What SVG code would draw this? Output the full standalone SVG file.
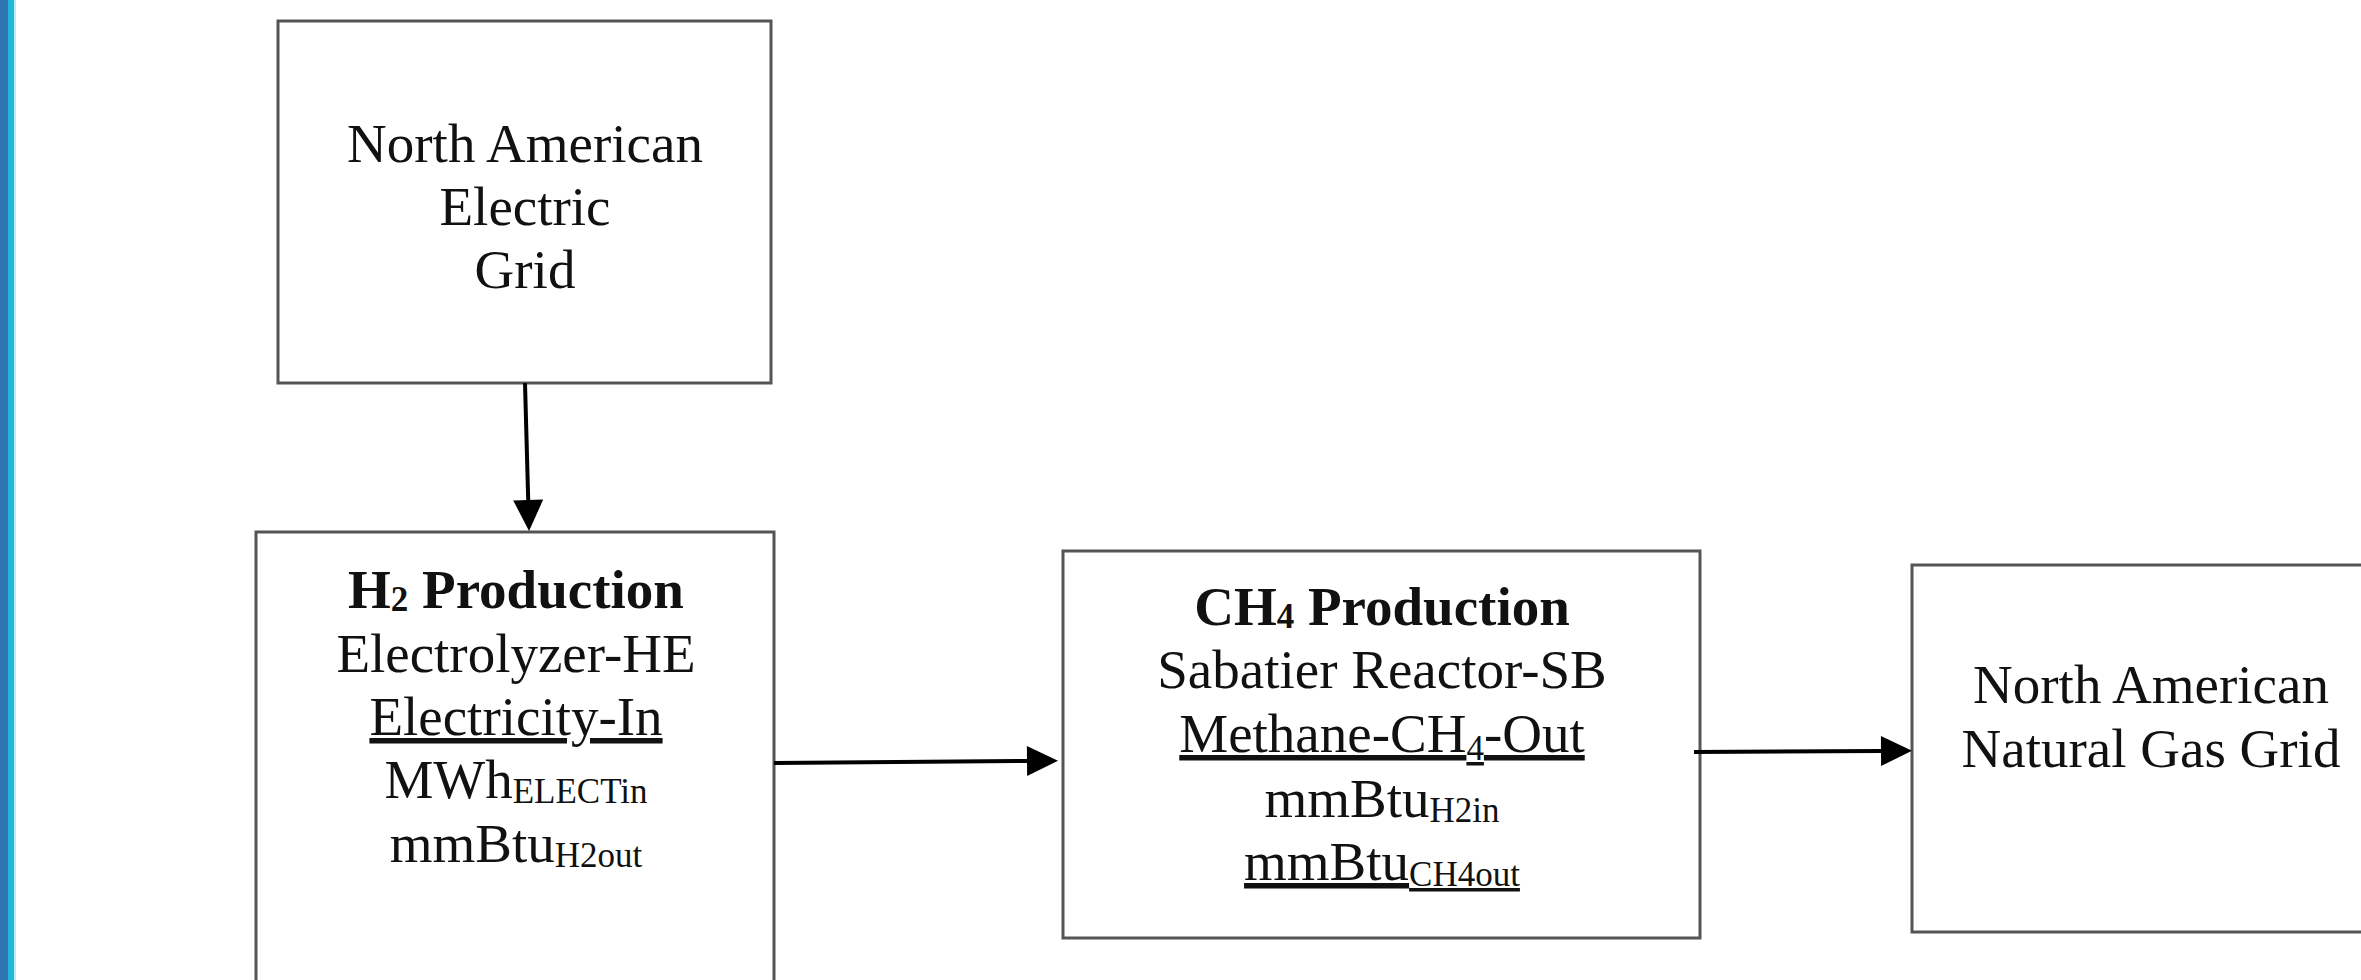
<svg xmlns="http://www.w3.org/2000/svg" width="2361" height="980" viewBox="0 0 2361 980">
<style>
.box{fill:#fff;stroke:#555;stroke-width:3}
.t{font-family:"Liberation Serif","Times New Roman",serif;font-size:55px;fill:#111;text-anchor:middle}
.b{font-weight:bold}
.s{font-size:35px}
.u{text-decoration:underline}
.c{stroke:#000;stroke-width:4;fill:none;marker-end:url(#ah)}
</style>
<defs>
<marker id="ah" markerUnits="userSpaceOnUse" markerWidth="31" markerHeight="31" refX="0" refY="15" orient="auto" overflow="visible">
<path d="M0,0 L31,15 L0,30 z" fill="#000"/>
</marker>
</defs>
<rect x="0" y="0" width="2361" height="980" fill="#fff"/>
<rect x="0" y="0" width="8" height="980" fill="#2e74b5"/>
<rect x="8" y="0" width="6" height="980" fill="#1fb7da"/>
<rect x="14" y="0" width="2" height="980" fill="#bfe9f4"/>

<g id="electric-grid">
<rect class="box" x="278" y="21" width="493" height="362"/>
<text class="t" x="525" y="162">North American</text>
<text class="t" x="525" y="225">Electric</text>
<text class="t" x="525" y="288">Grid</text>
</g>

<g id="h2-production">
<rect class="box" x="256" y="532" width="518" height="520"/>
<text class="t b" x="516" y="608">H<tspan class="s" dy="3">2</tspan><tspan dy="-3"> Production</tspan></text>
<text class="t" x="516" y="672">Electrolyzer-HE</text>
<text class="t u" x="516" y="735">Electricity-In</text>
<text class="t" x="516" y="798">MWh<tspan class="s" dy="5">ELECTin</tspan></text>
<text class="t" x="516" y="862">mmBtu<tspan class="s" dy="5">H2out</tspan></text>
</g>

<g id="ch4-production">
<rect class="box" x="1063" y="551" width="637" height="387"/>
<text class="t b" x="1382" y="625">CH<tspan class="s" dy="3">4</tspan><tspan dy="-3"> Production</tspan></text>
<text class="t" x="1382" y="688">Sabatier Reactor-SB</text>
<text class="t u" x="1382" y="752">Methane-CH<tspan class="s" dy="8">4</tspan><tspan dy="-8">-Out</tspan></text>
<text class="t" x="1382" y="817">mmBtu<tspan class="s" dy="5">H2in</tspan></text>
<text class="t u" x="1382" y="880">mmBtu<tspan class="s" dy="6">CH4out</tspan></text>
</g>

<g id="natural-gas-grid">
<rect class="box" x="1912" y="565" width="520" height="367"/>
<text class="t" x="2151" y="703">North American</text>
<text class="t" x="2151" y="767">Natural Gas Grid</text>
</g>

<g id="connectors">
<line class="c" x1="525" y1="383" x2="528.2" y2="500"/>
<line class="c" x1="774" y1="763" x2="1027" y2="761"/>
<line class="c" x1="1694" y1="752" x2="1881" y2="751"/>
</g>
</svg>
